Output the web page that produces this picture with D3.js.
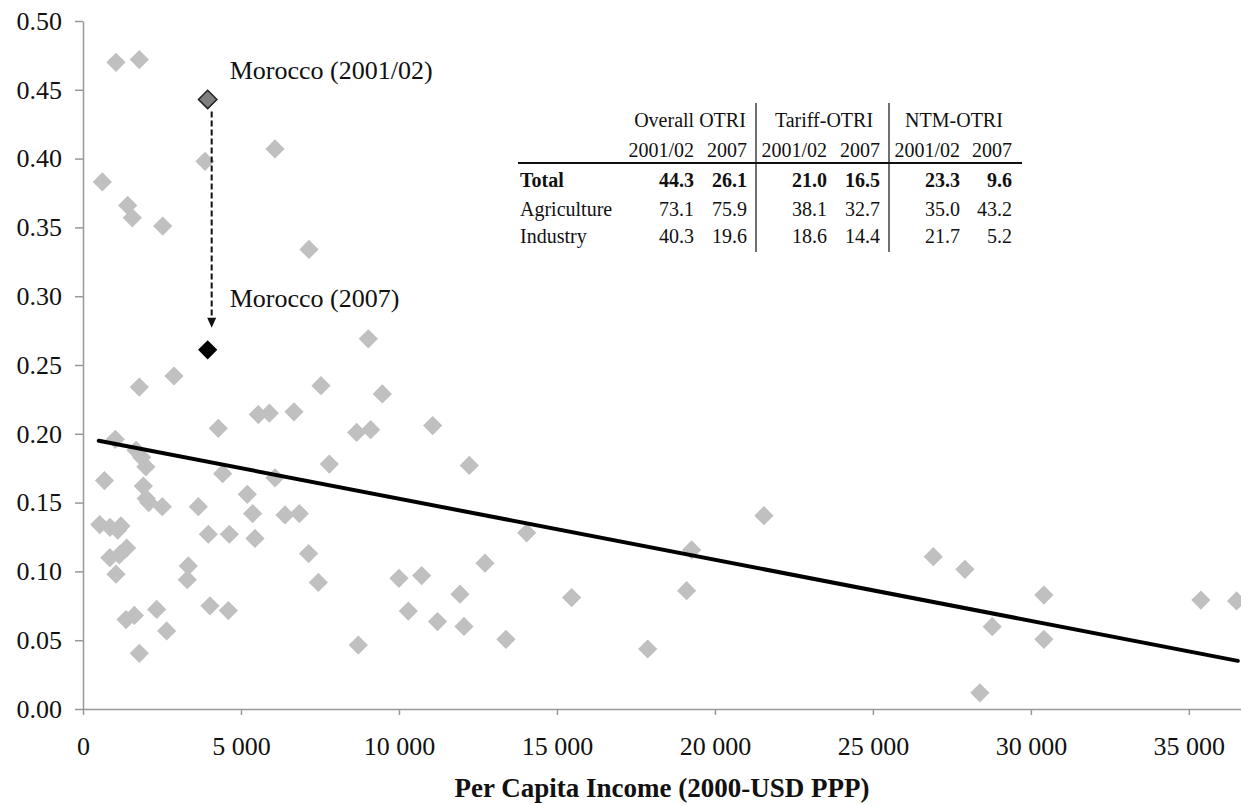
<!DOCTYPE html>
<html>
<head>
<meta charset="utf-8">
<script src="https://cdn.jsdelivr.net/npm/d3@7"></script>
<style>
  body { margin: 0; background: #fff; }
  text { font-family: "Liberation Serif", "Times New Roman", serif; fill: #111; }
</style>
</head>
<body>
<div id="chart"></div>
<script>
// Countries: per capita income (2000-USD PPP) and overall OTRI
const incomeValues = [
  1044, 1782, 3861, 6076, 612, 1414, 1561, 2521, 7152, 9030,
  2880, 1782, 7532, 9473, 5548, 5897, 6678, 4282, 11067, 8661,
  9104, 1023, 1680, 1857, 1990, 7796, 4420, 6076, 680, 1909,
  5200, 2000, 2080, 2510, 3650, 5369, 6393, 6847, 530, 854,
  1100, 1200, 3966, 4631, 5443, 1382, 7140, 850, 1150, 3333,
  3301, 1044, 7448, 10000, 10718, 4019, 4600, 2332, 10296, 1361,
  1624, 11220, 2648, 8713, 1782, 12226, 14041, 21551, 19262, 12722,
  11931, 19104, 15465, 12057, 13386, 17871, 26910, 27912, 30411, 35380,
  36510, 28776, 30411, 28386
];
const otriValues = [
  0.470, 0.472, 0.398, 0.407, 0.383, 0.366, 0.357, 0.351, 0.334, 0.269,
  0.242, 0.234, 0.235, 0.229, 0.214, 0.215, 0.216, 0.204, 0.206, 0.201,
  0.203, 0.196, 0.188, 0.183, 0.176, 0.178, 0.171, 0.168, 0.166, 0.162,
  0.156, 0.153, 0.150, 0.147, 0.147, 0.142, 0.141, 0.142, 0.134, 0.132,
  0.130, 0.133, 0.127, 0.127, 0.124, 0.117, 0.113, 0.110, 0.112, 0.104,
  0.094, 0.098, 0.092, 0.095, 0.097, 0.075, 0.0715, 0.0724, 0.0712, 0.065,
  0.068, 0.0635, 0.0567, 0.0465, 0.0405, 0.177, 0.128, 0.1405, 0.1156, 0.106,
  0.0834, 0.086, 0.081, 0.060, 0.0506, 0.0436, 0.1107, 0.1015, 0.0828, 0.0792,
  0.0785, 0.0598, 0.0506, 0.0118
];

// Morocco, two years
const moroccoLabels = ["Morocco (2001/02)", "Morocco (2007)"];
const moroccoIncome = [3946, 3946];
const moroccoOtri = [0.443, 0.261];

// Fitted trend line end points
const trendIncome = [500, 36550];
const trendOtri = [0.195, 0.035];

const xTicks = [0, 5000, 10000, 15000, 20000, 25000, 30000, 35000];
const yTicks = [0, 0.05, 0.1, 0.15, 0.2, 0.25, 0.3, 0.35, 0.4, 0.45, 0.5];
const xTitle = "Per Capita Income (2000-USD PPP)";

// Inset table
const tableGroups = ["Overall OTRI", "Tariff-OTRI", "NTM-OTRI"];
const tableYears = ["2001/02", "2007"];
const tableRows = ["Total", "Agriculture", "Industry"];
const totalVals = [44.3, 26.1, 21.0, 16.5, 23.3, 9.6];
const agricultureVals = [73.1, 75.9, 38.1, 32.7, 35.0, 43.2];
const industryVals = [40.3, 19.6, 18.6, 14.4, 21.7, 5.2];

const width = 1241;
const height = 806;

const svg = d3.select("#chart")
  .append("svg")
  .attr("width", width)
  .attr("height", height)
  .style("background", "#fff");

const x = d3.scaleLinear().domain([0, 36650]).range([83, 1241]);
const y = d3.scaleLinear().domain([0, 0.5]).range([709, 21]);

const locale = d3.formatLocale({ decimal: ".", thousands: " ", grouping: [3], currency: ["", ""] });

// axes
const xAxis = svg.append("g")
  .attr("transform", `translate(0,${y(0)})`)
  .call(d3.axisBottom(x).tickValues(xTicks).tickSize(6).tickSizeOuter(0).tickFormat(locale.format(",")));
xAxis.select(".domain").attr("stroke", "#999").attr("stroke-width", 1.5);
xAxis.selectAll(".tick line").attr("stroke", "#999").attr("stroke-width", 1.5);
xAxis.selectAll(".tick text")
  .attr("y", 28)
  .attr("dy", "0.71em")
  .style("font-size", "26px")
  .style("font-family", "'Liberation Serif', serif")
  .attr("fill", "#111");

const yAxis = svg.append("g")
  .attr("transform", `translate(${x(0)},0)`)
  .call(d3.axisLeft(y).tickValues(yTicks).tickSize(8).tickSizeOuter(0).tickFormat(d3.format(".2f")));
yAxis.select(".domain").attr("stroke", "#999").attr("stroke-width", 1.5);
yAxis.selectAll(".tick line").attr("stroke", "#999").attr("stroke-width", 1.5);
yAxis.selectAll(".tick text")
  .attr("x", -21)
  .style("font-size", "26px")
  .style("font-family", "'Liberation Serif', serif")
  .attr("fill", "#111");

svg.append("text")
  .attr("x", (x.range()[0] + x.range()[1]) / 2)
  .attr("y", 797)
  .attr("text-anchor", "middle")
  .style("font-size", "27px")
  .style("font-weight", "bold")
  .text(xTitle);

// scatter points
const diamond = d3.symbol().type(d3.symbolSquare).size(185);
const points = incomeValues.map((v, i) => ({ income: v, otri: otriValues[i] }));

svg.append("g")
  .selectAll("path")
  .data(points)
  .join("path")
  .attr("d", diamond)
  .attr("transform", d => `translate(${x(d.income)},${y(d.otri)}) rotate(45)`)
  .attr("fill", "#c0c0c0");

// trend line
svg.append("line")
  .attr("x1", x(trendIncome[0]))
  .attr("y1", y(trendOtri[0]))
  .attr("x2", x(trendIncome[1]))
  .attr("y2", y(trendOtri[1]))
  .attr("stroke", "#000")
  .attr("stroke-width", 4)
  .attr("stroke-linecap", "round");

// Morocco arrow
const ax = x(moroccoIncome[0]) + 4;
const yTop = y(moroccoOtri[0]) + 12;
const yTip = y(moroccoOtri[1]) - 22;
svg.append("line")
  .attr("x1", ax).attr("x2", ax)
  .attr("y1", yTop).attr("y2", yTip - 9)
  .attr("stroke", "#111")
  .attr("stroke-width", 2)
  .attr("stroke-dasharray", "6,3");
svg.append("path")
  .attr("d", `M${ax - 4.5},${yTip - 10} L${ax + 4.5},${yTip - 10} L${ax},${yTip} Z`)
  .attr("fill", "#111");

// Morocco points
svg.append("path")
  .attr("d", d3.symbol().type(d3.symbolSquare).size(170))
  .attr("transform", `translate(${x(moroccoIncome[0])},${y(moroccoOtri[0])}) rotate(45)`)
  .attr("fill", "#808080")
  .attr("stroke", "#222")
  .attr("stroke-width", 1.5);
svg.append("path")
  .attr("d", d3.symbol().type(d3.symbolSquare).size(185))
  .attr("transform", `translate(${x(moroccoIncome[1])},${y(moroccoOtri[1])}) rotate(45)`)
  .attr("fill", "#000");

svg.append("text")
  .attr("x", x(moroccoIncome[0]) + 22)
  .attr("y", y(moroccoOtri[0]) - 20)
  .style("font-size", "26px")
  .text(moroccoLabels[0]);
svg.append("text")
  .attr("x", x(moroccoIncome[1]) + 22)
  .attr("y", y(moroccoOtri[1]) - 43)
  .style("font-size", "26px")
  .text(moroccoLabels[1]);

// table
const table = svg.append("g").style("font-size", "20px");
const colRight = [694, 747, 827, 880, 960, 1012];
const groupCenter = [690, 824, 954];

table.selectAll(".grp")
  .data(tableGroups)
  .join("text")
  .attr("x", (d, i) => groupCenter[i])
  .attr("y", 127)
  .attr("text-anchor", "middle")
  .text(d => d);

table.selectAll(".yr")
  .data(d3.range(6))
  .join("text")
  .attr("x", i => colRight[i])
  .attr("y", 157)
  .attr("text-anchor", "end")
  .text(i => tableYears[i % 2]);

table.append("line")
  .attr("x1", 518).attr("x2", 1022)
  .attr("y1", 163).attr("y2", 163)
  .attr("stroke", "#111").attr("stroke-width", 1.8);

[756, 889].forEach(vx => {
  table.append("line")
    .attr("x1", vx).attr("x2", vx)
    .attr("y1", 103).attr("y2", 252)
    .attr("stroke", "#111").attr("stroke-width", 1.2);
});

const rowVals = [totalVals, agricultureVals, industryVals];
const rowY = [187, 216, 243];
tableRows.forEach((label, r) => {
  const g = table.append("g").style("font-weight", r === 0 ? "bold" : "normal");
  g.append("text").attr("x", 520).attr("y", rowY[r]).text(label);
  g.selectAll(".v")
    .data(rowVals[r])
    .join("text")
    .attr("x", (d, i) => colRight[i])
    .attr("y", rowY[r])
    .attr("text-anchor", "end")
    .text(d => d.toFixed(1));
});
</script>
</body>
</html>
